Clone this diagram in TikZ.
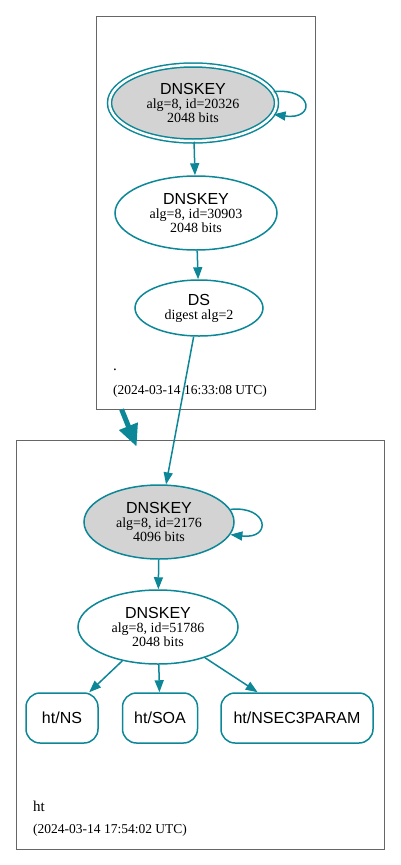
\documentclass[tikz,border=0pt]{standalone}
\usepackage{fontspec}
\setmainfont{Liberation Serif}
\setsansfont{Liberation Sans}
\usepackage{tikz}
\usetikzlibrary{arrows.meta, shapes.geometric}
\definecolor{dnsteal}{RGB}{12,135,152}
\definecolor{keygray}{RGB}{211,211,211}
\newcommand{\kname}[1]{{\sffamily\fontsize{16}{16}\selectfont #1}}

\begin{document}
\begin{tikzpicture}[x=1pt, y=-1pt,
  zone/.style={draw=black!60, line width=0.8pt},
  key/.style={ellipse, draw=dnsteal, line width=1.5pt, inner sep=0pt, align=center, font=\fontsize{14}{14}\selectfont},
  rrset/.style={draw=dnsteal, line width=1.5pt, rounded corners=14pt, minimum height=50pt, font=\sffamily\fontsize{16}{16}\selectfont},
  edge/.style={dnsteal, line width=1.5pt, -{Triangle[length=12pt, width=9pt]}},
  zonetext/.style={anchor=base west, inner sep=0pt}]
\useasboundingbox (0,0) rectangle (400,865);
\node (zone1) [zone, minimum width=219pt, minimum height=393pt] at (205.5,212.5) {};
\node (zone2) [zone, minimum width=368pt, minimum height=409pt] at (200,644.5) {};
%
\node (k1) [key, fill=keygray, double=white, double distance=2.5pt, minimum width=167pt, minimum height=76pt] at (193,103)
  {\kname{DNSKEY}\\alg=8, id=20326\\2048 bits};
\node (k2) [key, minimum width=162pt, minimum height=74pt] at (196,213)
  {\kname{DNSKEY}\\alg=8, id=30903\\2048 bits};
\node (ds) [key, minimum width=128pt, minimum height=56pt] at (199,308)
  {\kname{DS}\\digest alg=2};
\node (k4) [key, fill=keygray, minimum width=150pt, minimum height=74pt] at (159,522)
  {\kname{DNSKEY}\\alg=8, id=2176\\4096 bits};
\node (k5) [key, minimum width=160pt, minimum height=74pt] at (158,627)
  {\kname{DNSKEY}\\alg=8, id=51786\\2048 bits};
%
\foreach \n/\x/\w/\t in {b1/62/72/NS, b2/160/75/SOA, b3/297/152/NSEC3PARAM}
  \node (\n) [rrset, minimum width=\w pt] at (\x,718) {ht/\t};
%
\node (z1name) [zonetext, font=\fontsize{15}{15}\selectfont] at (113,370) {.};
\node (z1time) [zonetext, font=\fontsize{13.5}{14}\selectfont] at (113,394) {(2024-03-14 16:33:08 UTC)};
\node (z2name) [zonetext, font=\fontsize{15}{15}\selectfont] at (33,811) {ht};
\node (z2time) [zonetext, font=\fontsize{13.5}{14}\selectfont] at (33,833) {(2024-03-14 17:54:02 UTC)};
%
\draw[edge] (k1.8) .. controls +(40,-4) and +(42,6) .. (k1.-8);
\draw[edge] (k1) -- (k2);
\draw[edge] (k2) -- (ds);
\draw[edge] (ds) -- (k4);
\draw[edge] (k4.10) .. controls +(38,-4) and +(42,5) .. (k4.-10);
\draw[edge] (k4) -- (k5);
\foreach \n in {b1,b2,b3}
  \draw[edge] (k5) -- (\n);
%
\draw[dnsteal, line width=5pt, -{Triangle[length=22pt, width=19pt]}]
  ([xshift=26pt]zone1.south west) -- ([xshift=121pt, yshift=-7pt]zone2.north west);
\end{tikzpicture}
\end{document}
